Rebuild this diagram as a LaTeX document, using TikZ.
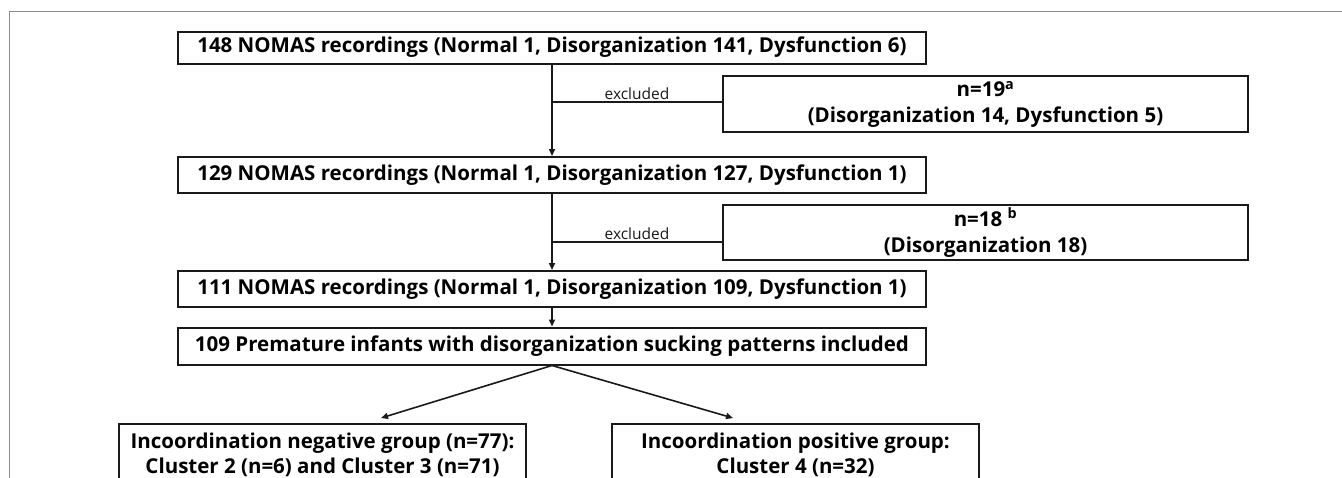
\documentclass[tikz,border=0pt]{standalone}
\usepackage{fontspec}
\setmainfont{Open Sans}
\usepackage{xcolor}
\usepackage{tikz}
\usetikzlibrary{positioning,arrows.meta,calc}
\definecolor{ink}{HTML}{1A1A1A}
\definecolor{rim}{HTML}{8C8C8C}
\tikzset{
  box/.style={draw=ink,line width=2pt,fill=white,inner sep=0pt,align=center,font=\fontsize{20.5}{25.5}\selectfont\bfseries},
  note/.style={font=\fontsize{15.5}{16}\selectfont,inner sep=2pt,text=ink},
  arr/.style={-{Triangle[length=7pt,width=6pt]},line width=1.6pt,ink},
  link/.style={line width=1.6pt,ink},
}
\begin{document}
\begin{tikzpicture}[x=1pt,y=-1pt]
\clip (0,0) rectangle (1342,477);
\fill[white] (0,0) rectangle (1342,477);
\draw[rim,line width=1pt] (9,11) rectangle (1400,520);
\node[box,minimum width=748pt,minimum height=32pt] (rec148) at (552,47.5) {148 NOMAS recordings (Normal 1, Disorganization 141, Dysfunction 6)};
\node[box,minimum width=525pt,minimum height=56pt] (exc19) at (985.5,104) {n=19\textsuperscript{a}\\(Disorganization 14, Dysfunction 5)};
\node[box,minimum width=748pt,minimum height=36pt] (rec129) at (552,175) {129 NOMAS recordings (Normal 1, Disorganization 127, Dysfunction 1)};
\node[box,minimum width=525pt,minimum height=55pt] (exc18) at (985.5,232.5) {n=18 \textsuperscript{b}\\(Disorganization 18)};
\node[box,minimum width=748pt,minimum height=36pt] (rec111) at (552,289) {111 NOMAS recordings (Normal 1, Disorganization 109, Dysfunction 1)};
\node[box,minimum width=748pt,minimum height=37pt] (inf109) at (552,346) {109 Premature infants with disorganization sucking patterns included};
\node[box,minimum width=407pt,minimum height=62pt] (neg) at (322.5,455) {Incoordination negative group (n=77):\\Cluster 2 (n=6) and Cluster 3 (n=71)};
\node[box,minimum width=367pt,minimum height=62pt] (pos) at (795.5,455) {Incoordination positive group:\\Cluster 4 (n=32)};
\coordinate (cut19) at (552,102);
\coordinate (cut18) at (552,242);
\coordinate (negtip) at (381,418);
\coordinate (postip) at (733,418);
\draw[arr] (rec148) -- (rec129);
\draw[link] (cut19) -- node[note,above]{excluded} (cut19 -| exc19.west);
\draw[arr] (rec129) -- (rec111);
\draw[link] (cut18) -- node[note,above]{excluded} (cut18 -| exc18.west);
\draw[arr] (rec111) -- (inf109);
\draw[arr] (inf109.south) -- (negtip);
\draw[arr] (inf109.south) -- (postip);
\end{tikzpicture}
\end{document}
